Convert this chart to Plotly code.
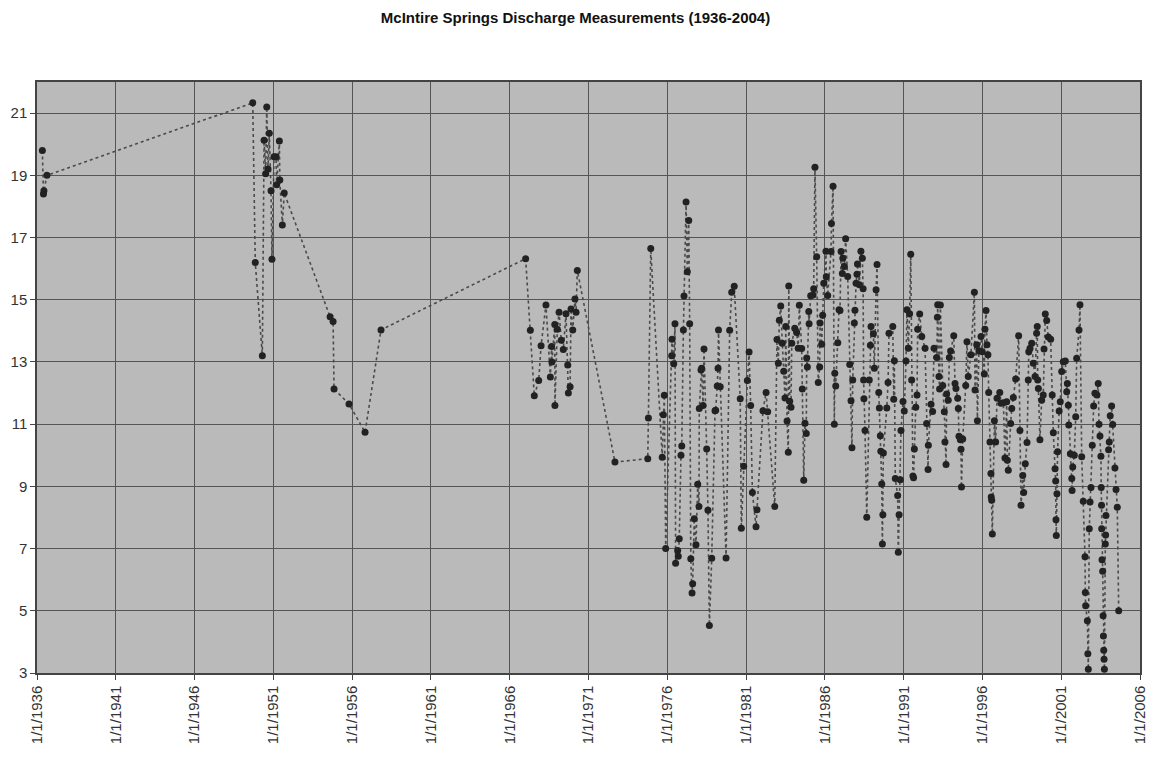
import datetime as dt
import plotly.graph_objects as go

# decimal-year dates of measurements and discharge values
years = [
    1936.34, 1936.41, 1936.44, 1936.63,
    1949.69, 1949.85, 1950.30, 1950.41, 1950.51, 1950.58, 1950.66, 1950.74, 1950.85, 1950.91,
    1951.04, 1951.17, 1951.21, 1951.38, 1951.41, 1951.57, 1951.69,
    1954.60, 1954.79, 1954.85, 1955.80, 1956.82, 1957.83,
    1967.01, 1967.31, 1967.56, 1967.84, 1967.99, 1968.30, 1968.58, 1968.66, 1968.68, 1968.86,
    1968.87, 1969.02, 1969.13, 1969.27, 1969.40, 1969.57, 1969.68, 1969.72, 1969.83, 1969.89,
    1970.00, 1970.14, 1970.21, 1970.29,
    1972.68, 1974.76, 1974.80, 1974.95, 1975.68, 1975.75, 1975.81, 1975.90,
    1976.28, 1976.30, 1976.41, 1976.49, 1976.53, 1976.66, 1976.70, 1976.76, 1976.87, 1976.92,
    1977.02, 1977.06, 1977.19, 1977.27, 1977.36, 1977.42, 1977.49, 1977.57, 1977.61, 1977.71,
    1977.82, 1977.93, 1978.01, 1978.03, 1978.14, 1978.18, 1978.27, 1978.33, 1978.50, 1978.58,
    1978.67, 1978.82, 1979.03, 1979.07, 1979.17, 1979.22, 1979.25, 1979.36, 1979.73, 1979.96,
    1980.09, 1980.25, 1980.63, 1980.70, 1980.85, 1981.08, 1981.19, 1981.29, 1981.40, 1981.63,
    1981.69, 1982.07, 1982.27, 1982.37, 1982.82, 1982.96, 1983.05, 1983.11, 1983.20, 1983.30,
    1983.39, 1983.47, 1983.52, 1983.60, 1983.68, 1983.71, 1983.77, 1983.85, 1983.90, 1984.09,
    1984.21, 1984.31, 1984.38, 1984.53, 1984.57, 1984.66, 1984.74, 1984.82, 1984.85, 1984.89,
    1984.98, 1985.00, 1985.10, 1985.25, 1985.29, 1985.37, 1985.48, 1985.58, 1985.67, 1985.69,
    1985.80, 1985.86, 1985.93, 1986.07, 1986.09, 1986.18, 1986.39, 1986.42, 1986.52, 1986.60,
    1986.63, 1986.69, 1986.82, 1986.90, 1986.96, 1987.03, 1987.11, 1987.14, 1987.24, 1987.32,
    1987.45, 1987.58, 1987.66, 1987.72, 1987.77, 1987.87, 1987.91, 1987.98, 1988.04, 1988.07,
    1988.19, 1988.29, 1988.38, 1988.43, 1988.46, 1988.48, 1988.55, 1988.66, 1988.82, 1988.89,
    1988.93, 1989.08, 1989.14, 1989.25, 1989.31, 1989.42, 1989.46, 1989.52, 1989.55, 1989.61,
    1989.65, 1989.68, 1989.71, 1989.93, 1990.01, 1990.07,
    1990.31, 1990.37, 1990.41, 1990.47, 1990.62, 1990.66, 1990.71, 1990.79, 1990.83, 1990.96,
    1991.04, 1991.15, 1991.21, 1991.30, 1991.38, 1991.45, 1991.51, 1991.59, 1991.63, 1991.68,
    1991.77, 1991.85, 1991.89, 1992.02, 1992.15, 1992.36, 1992.46, 1992.55, 1992.57, 1992.74,
    1992.84, 1992.93, 1993.10, 1993.14, 1993.16, 1993.24, 1993.28, 1993.33, 1993.48, 1993.58,
    1993.62, 1993.69, 1993.73, 1993.83, 1993.90, 1993.98, 1994.18, 1994.26, 1994.32, 1994.43,
    1994.47, 1994.51, 1994.60, 1994.64, 1994.67, 1994.75, 1994.94, 1995.02, 1995.10, 1995.27,
    1995.49, 1995.53, 1995.64, 1995.68, 1995.78, 1995.91, 1995.99, 1996.12, 1996.16, 1996.23,
    1996.29, 1996.35, 1996.40, 1996.48, 1996.54, 1996.56, 1996.59, 1996.63, 1996.76, 1996.84,
    1996.93, 1997.10, 1997.18, 1997.33, 1997.43, 1997.54, 1997.58, 1997.64,
    1997.79, 1997.86, 1997.96, 1998.11, 1998.30, 1998.38, 1998.45, 1998.56, 1998.62, 1998.72,
    1998.83, 1998.91, 1998.94, 1999.02, 1999.13, 1999.23, 1999.34, 1999.44, 1999.48, 1999.51,
    1999.55, 1999.65, 1999.76, 1999.86, 1999.91, 1999.99, 2000.08, 2000.18, 2000.33, 2000.43,
    2000.50, 2000.61, 2000.65, 2000.67, 2000.69, 2000.73, 2000.77, 2000.87, 2000.94, 2001.03,
    2001.13, 2001.26, 2001.35, 2001.39, 2001.45, 2001.48, 2001.58, 2001.67, 2001.69, 2001.73,
    2001.83, 2001.92, 2001.98, 2002.13, 2002.19, 2002.30, 2002.40, 2002.51, 2002.53, 2002.55,
    2002.66, 2002.69, 2002.72, 2002.78, 2002.83, 2002.89, 2002.97, 2003.06, 2003.14, 2003.27,
    2003.35, 2003.40, 2003.46, 2003.52, 2003.54, 2003.56, 2003.57, 2003.59, 2003.63, 2003.66,
    2003.68, 2003.70, 2003.72, 2003.74, 2003.80, 2003.82, 2003.84, 2004.01, 2004.05, 2004.11,
    2004.20, 2004.27, 2004.41, 2004.48, 2004.56, 2004.65,
]

discharge = [
    19.8, 18.4, 18.5, 19.0,
    21.33, 16.2, 13.2, 20.13, 19.05, 21.2, 19.2, 20.35, 18.5, 16.3,
    19.6, 19.6, 18.7, 20.1, 18.85, 17.4, 18.43,
    14.45, 14.3, 12.13, 11.65, 10.74, 14.03,
    16.32, 14.02, 11.91, 12.4, 13.52, 14.83, 12.52, 13.5, 13.0, 14.2,
    11.6, 14.05, 14.6, 13.7, 13.4, 14.55, 12.9, 12.0, 12.2, 14.7,
    14.03, 15.02, 14.6, 15.94,
    9.78, 9.89, 11.2, 16.65, 9.94, 11.3, 11.93, 7.0,
    13.2, 13.73, 12.94, 14.23, 6.53, 6.94, 6.75, 7.32, 10.0, 10.3,
    14.03, 15.12, 18.14, 15.9, 17.55, 14.23, 6.67, 5.57, 5.87, 7.96,
    7.12, 9.07, 8.35, 11.5, 12.74, 12.8, 11.6, 13.42, 10.2, 8.23,
    4.53, 6.69, 11.43, 11.45, 12.23, 12.8, 14.03, 12.2, 6.7, 14.02,
    15.24, 15.43, 11.82, 7.65, 9.65, 12.4, 13.32, 11.6, 8.8, 7.7,
    8.25, 11.43, 12.02, 11.4, 8.35, 13.72, 12.96, 14.34, 14.8, 13.6,
    12.7, 11.84, 14.14, 11.1, 10.1, 15.44, 11.74, 11.54, 13.6, 14.08,
    13.95, 13.44, 14.82, 13.43, 12.13, 9.2, 11.03, 10.7, 13.13, 12.84,
    14.62, 14.23, 15.13, 15.15, 15.35, 19.26, 16.38, 12.34, 12.84, 14.25,
    13.57, 14.5, 15.53, 16.56, 15.74, 15.14, 16.55, 17.45, 18.65, 11.0,
    12.64, 12.23, 13.62, 14.68, 14.65, 16.55, 15.84, 16.33, 16.07, 16.96,
    15.75, 12.92, 11.75, 10.24, 12.42, 14.25, 14.66, 15.53, 15.82, 16.15,
    15.48, 16.56, 16.33, 15.35, 12.42, 11.82, 10.8, 8.01, 12.42, 13.54,
    14.14, 13.91, 12.8, 15.32, 16.13, 12.02, 11.52, 10.63, 10.13, 9.08,
    7.15, 8.09, 10.07, 11.52, 12.34, 13.92,
    14.14, 11.8, 13.04, 9.25, 8.71, 6.88, 8.09, 9.21, 10.8, 11.73,
    11.42, 13.03, 14.68, 13.44, 14.55, 16.46, 12.42, 9.33, 9.28, 10.2,
    11.54, 11.94, 14.05, 14.54, 13.82, 13.44, 11.02, 9.54, 10.32, 11.64,
    11.41, 13.44, 13.14, 14.44, 14.84, 12.53, 12.13, 14.83, 12.24, 11.4,
    10.43, 9.7, 11.97, 11.77, 13.14, 13.35, 13.84, 12.31, 12.15, 11.83,
    11.5, 10.61, 10.5, 10.19, 8.98, 10.52, 12.24, 13.65, 12.53, 13.23,
    15.24, 12.1, 13.55, 11.11, 13.36, 13.82, 13.33, 12.61, 14.05, 14.65,
    13.55, 13.23, 12.02, 10.43, 9.41, 8.66, 8.55, 7.47, 11.11, 10.43,
    11.83, 12.02, 11.67, 11.69, 9.91, 11.72, 9.84, 9.52,
    11.02, 11.5, 11.86, 12.45, 13.84, 10.8, 8.39, 9.35, 8.8, 9.73,
    10.41, 12.42, 13.33, 13.44, 13.6, 12.96, 12.53, 13.92, 14.14, 12.42,
    12.15, 10.5, 11.77, 11.94, 13.42, 14.54, 14.33, 13.8, 13.73, 11.94,
    10.72, 9.57, 9.17, 7.93, 7.42, 8.76, 10.11, 11.42, 11.72, 12.69,
    13.01, 13.03, 12.04, 12.31, 11.61, 10.97, 10.05, 9.25, 8.87, 9.62,
    10.0, 11.24, 13.12, 14.03, 14.84, 9.95, 8.52, 6.74, 5.59, 5.16,
    4.68, 3.62, 3.12, 7.64, 8.5, 8.96, 10.32, 11.58, 11.99, 11.94,
    12.31, 11.0, 10.62, 9.97, 8.96, 8.39, 7.64, 6.64, 6.27, 4.84,
    4.19, 3.73, 3.44, 3.12, 7.15, 7.44, 8.06, 10.18, 10.43, 11.27,
    11.58, 10.99, 9.59, 8.9, 8.33, 5.0,
]

tick_years = [1936, 1941, 1946, 1951, 1956, 1961, 1966, 1971, 1976, 1981, 1986, 1991, 1996, 2001, 2006]
y_ticks = [3, 5, 7, 9, 11, 13, 15, 17, 19, 21]
title_text = "McIntire Springs Discharge Measurements (1936-2004)"


def to_date(y):
    base = dt.datetime(int(y), 1, 1)
    return base + dt.timedelta(days=(y - int(y)) * 365.25)


dates = [to_date(y) for y in years]

fig = go.Figure()
fig.add_trace(go.Scatter(
    x=dates, y=discharge, mode="lines+markers",
    line=dict(color="#4a4a4a", width=1.6, dash="dot"),
    marker=dict(symbol="circle", size=7, color="#222222"),
    showlegend=False,
))

fig.update_layout(
    width=1151, height=766,
    margin=dict(l=37, r=11, t=82, b=93, autoexpand=False),
    paper_bgcolor="white",
    plot_bgcolor="#bababa",
    title=dict(text="<b>" + title_text + "</b>", x=0.5, xanchor="center",
               y=0.977, yanchor="middle",
               font=dict(family="Liberation Sans, Arial, sans-serif", size=15, color="#111")),
    font=dict(family="Liberation Sans, Arial, sans-serif", color="#333"),
)
fig.update_xaxes(
    type="date", automargin=False,
    range=[dt.datetime(1936, 1, 1), dt.datetime(2006, 1, 1)],
    tickvals=[dt.datetime(y, 1, 1) for y in tick_years],
    ticktext=["1/1/%d" % y for y in tick_years],
    tickangle=-90, tickfont=dict(size=15, color="#333"),
    showgrid=True, gridcolor="#555555", gridwidth=1.4,
    ticks="outside", ticklen=5, tickcolor="#444",
    showline=True, linecolor="#444", linewidth=1.5, mirror=True,
    zeroline=False,
)
fig.update_yaxes(
    range=[3, 22], automargin=False,
    tickvals=y_ticks,
    tickfont=dict(size=15, color="#333"),
    showgrid=True, gridcolor="#555555", gridwidth=1.4,
    ticks="outside", ticklen=5, tickcolor="#444",
    showline=True, linecolor="#444", linewidth=1.5, mirror=True,
    zeroline=False,
)

fig.write_html("out.html")
